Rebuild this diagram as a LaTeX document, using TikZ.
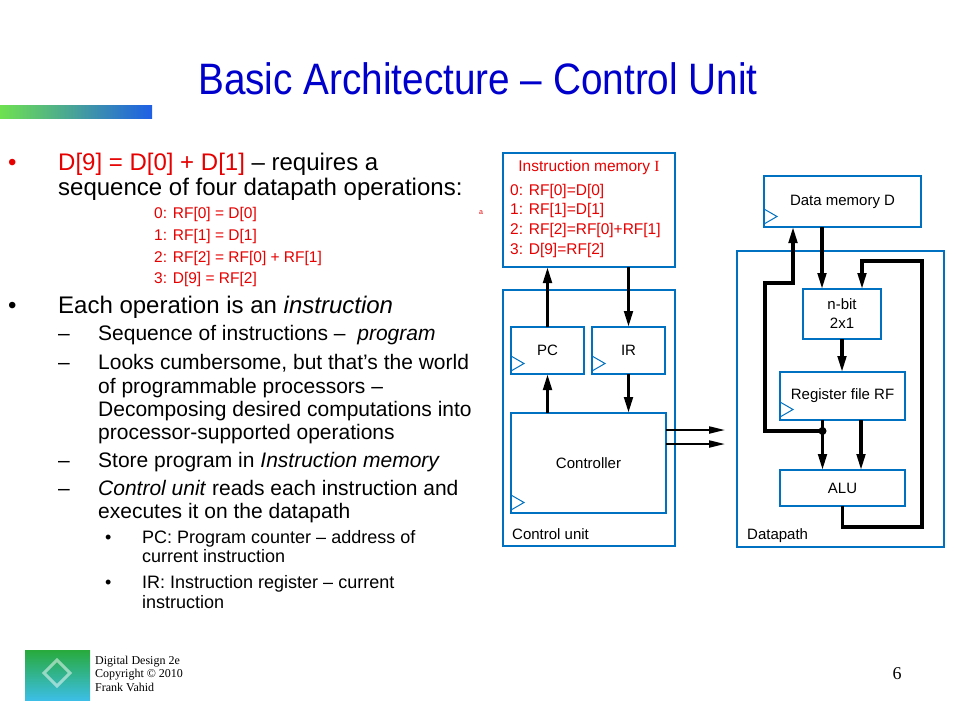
\documentclass[tikz,border=0pt]{standalone}
\usepackage{fontspec}
\setmainfont{Liberation Sans}
\newfontfamily\titlefont[Ligatures=TeX,FakeStretch=0.88]{Liberation Sans}
\newfontfamily\footfont[Ligatures=TeX]{Liberation Serif}
\usetikzlibrary{arrows.meta,shadings}
\definecolor{titleblue}{RGB}{0,0,204}
\definecolor{boxblue}{RGB}{0,112,192}
\definecolor{pptred}{RGB}{230,0,0}
\newcommand\clock[1]{\draw[clk] (#1.south west) ++(0,-3) -- ++(13,-7.5) -- ++(-13,-7.5);}

\begin{document}
\begin{tikzpicture}
  [x=1pt,y=-1pt,
   blk/.style={draw=boxblue,line width=2pt,inner sep=0pt,outer sep=0pt,font=\fontsize{15}{19}\selectfont},
   bus/.style={line width=3.2pt,-{Triangle[length=16pt,width=8.5pt]}},
   ctl/.style={line width=2pt,-{Triangle[length=16pt,width=7pt]}},
   clk/.style={draw=boxblue,line width=1pt},
   txt/.style={anchor=base west,inner sep=0pt},
   lone/.style={txt,font=\fontsize{24}{28}\selectfont},
   ltwo/.style={txt,font=\fontsize{21}{25}\selectfont},
   lthree/.style={txt,font=\fontsize{18}{21}\selectfont},
   prog/.style={txt,text=pptred,font=\fontsize{15.5}{19}\selectfont}]
  \useasboundingbox (0,0) rectangle (960,720);

  % title and bar
  \node[anchor=base,text=titleblue,font=\titlefont\fontsize{44}{50}\selectfont] (title) at (478,94) {Basic Architecture -- Control Unit};
  \shade[left color={rgb,255:red,110;green,225;blue,80},right color={rgb,255:red,30;green,95;blue,230}] (0,105) rectangle (152,118);

  % left text
  \node[lone,text=pptred] (b1) at (8,170.5) {\textbullet};
  \node[lone] (t1) at (58,170.5) {\textcolor{pptred}{D[9] = D[0] + D[1]} -- requires a};
  \node[lone] (t2) at (58,195.5) {sequence of four datapath operations:};
  \node[prog] (p0) at (154,218.5) {0: RF[0] = D[0]};
  \node[prog] (p1) at (154,240.5) {1: RF[1] = D[1]};
  \node[prog] (p2) at (154,262.5) {2: RF[2] = RF[0] + RF[1]};
  \node[prog] (p3) at (154,283.5) {3: D[9] = RF[2]};
  \node[txt,text=pptred,font=\fontsize{7}{8}\selectfont] (a) at (479,214) {a};

  \node[lone] (b2) at (8,313) {\textbullet};
  \node[lone] (t3) at (58,313) {Each operation is an \textit{instruction}};
  \foreach \y in {340.5,369.5,467.5,495.5}
    \node[ltwo] at (58,\y) {--};
  \node[ltwo] (s1) at (98,340.5) {Sequence of instructions --\ \ \textit{program}};
  \node[ltwo] (s2) at (98,369.5) {Looks cumbersome, but that's the world};
  \node[ltwo] (s3) at (98,393.5) {of programmable processors --};
  \node[ltwo] (s4) at (98,416.5) {Decomposing desired computations into};
  \node[ltwo] (s5) at (98,439.5) {processor-supported operations};
  \node[ltwo] (s6) at (98,467.5) {Store program in \textit{Instruction memory}};
  \node[ltwo] (s7) at (98,495.5) {\textit{Control unit} reads each instruction and};
  \node[ltwo] (s8) at (98,518.5) {executes it on the datapath};
  \foreach \y in {543.5,588.5}
    \node[lthree] at (105,\y) {\textbullet};
  \node[lthree] (r1) at (142,543.5) {PC: Program counter -- address of};
  \node[lthree] (r2) at (142,562.5) {current instruction};
  \node[lthree] (r3) at (142,588.5) {IR: Instruction register -- current};
  \node[lthree] (r4) at (142,608.5) {instruction};

  % control unit side
  \node[blk,minimum width=172,minimum height=114] (imem) at (589,210) {};
  \node[anchor=base,text=pptred,font=\fontsize{15.5}{19}\selectfont] (imtitle) at (589,171.5) {Instruction memory {\footfont I}};
  \node[prog] (i0) at (510,195.5) {0: RF[0]=D[0]};
  \node[prog] (i1) at (510,214.5) {1: RF[1]=D[1]};
  \node[prog] (i2) at (510,234.5) {2: RF[2]=RF[0]+RF[1]};
  \node[prog] (i3) at (510,254.5) {3: D[9]=RF[2]};

  \node[blk,minimum width=172,minimum height=256] (cu) at (589,418) {};
  \node[txt,font=\fontsize{15}{19}\selectfont] (culbl) at (512,539.5) {Control unit};
  \node[blk,minimum width=73,minimum height=47] (pc) at (547.5,350.5) {PC};
  \node[blk,minimum width=73,minimum height=47] (ir) at (628.5,350.5) {IR};
  \node[blk,minimum width=155,minimum height=100] (ctrl) at (588.5,463) {Controller};

  % datapath side
  \node[blk,minimum width=157,minimum height=51] (dm) at (842.5,201.5) {Data memory D};
  \node[blk,minimum width=207,minimum height=296] (dp) at (840.5,399) {};
  \node[txt,font=\fontsize{15}{19}\selectfont] (dplbl) at (747,539.5) {Datapath};
  \node[blk,minimum width=78,minimum height=50,align=center] (mux) at (842,314) {n-bit\\2x1};
  \node[blk,minimum width=125,minimum height=48] (rf) at (842.5,396) {Register file RF};
  \node[blk,minimum width=125,minimum height=36] (alu) at (842.5,488) {ALU};

  \foreach \n in {pc,ir,ctrl,dm,rf}
    {\clock{\n}}

  \coordinate (o1) at (725,430);
  \coordinate (o2) at (725,444);
  \coordinate (fork) at (822.5,431);
  \coordinate (wb) at (765,283);
  \coordinate (lp1) at (922,527);
  \coordinate (lp2) at (862,261);

  % connectors
  \draw[bus] (pc.north) -- (pc.north |- imem.south);
  \draw[bus] (ir.north |- imem.south) -- (ir.north);
  \draw[bus] (pc.south |- ctrl.north) -- (pc.south);
  \draw[bus] (ir.south) -- (ir.south |- ctrl.north);
  \foreach \o in {o1,o2}
    \draw[ctl] (ctrl.east |- \o) -- (\o);

  \draw[bus] ([xshift=-20pt]mux.north |- dm.south) -- ([xshift=-20pt]mux.north);
  \draw[bus] (mux.south) -- (mux.south |- rf.north);
  \draw[bus] ([xshift=-20pt]rf.south) -- ([xshift=-20pt]alu.north);
  \draw[bus] ([xshift=18.5pt]rf.south) -- ([xshift=18.5pt]alu.north);
  \fill (fork) circle (4);
  \draw[bus] (fork) -| (wb) -| ([xshift=-49.5pt]dm.south);
  \draw[bus] (alu.south) |- (lp1) |- (lp2) -- ([xshift=20pt]mux.north);

  % footer
  \shade[top color={rgb,255:red,40;green,170;blue,60},bottom color={rgb,255:red,60;green,190;blue,230}] (25,650) rectangle (90,700);
  \draw[white,opacity=.5,line width=3pt] (57,660) -- (70,673) -- (57,686) -- (44,673) -- cycle;
  \node[txt,font=\footfont\fontsize{12}{13.5}\selectfont] (f1) at (95,664) {Digital Design 2e};
  \node[txt,font=\footfont\fontsize{12}{13.5}\selectfont] (f2) at (95,677.5) {Copyright \textcopyright{} 2010};
  \node[txt,font=\footfont\fontsize{12}{13.5}\selectfont] (f3) at (95,691) {Frank Vahid};
  \node[anchor=base,font=\footfont\fontsize{18}{20}\selectfont] (pg) at (897,679) {6};
\end{tikzpicture}
\end{document}
